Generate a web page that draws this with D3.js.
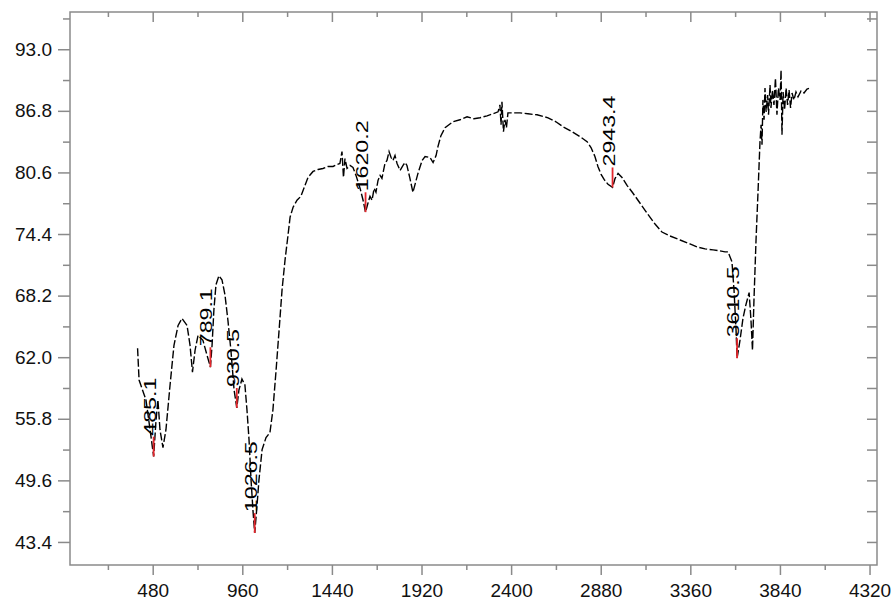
<!DOCTYPE html>
<html>
<head>
<meta charset="utf-8">
<script src="https://cdn.jsdelivr.net/npm/d3@7"></script>
<style>
	body { margin: 0; background: #fff; }
	svg text { font-family: "Liberation Sans", Arial, sans-serif; }
</style>
</head>
<body>
<div id="container"></div>
<script>
//Spectrum (wavenumber, transmittance)
var wavenumber = [399, 407, 444, 466, 485.1, 498, 508, 519, 535, 551,
	573, 594, 616, 637, 664, 680, 693, 707, 723, 749,
	771, 789.1, 798, 808, 819, 835, 851, 867, 883, 899,
	916, 930.5, 942, 958, 974, 985, 996, 1007, 1017, 1026.5,
	1039, 1049, 1066, 1087, 1108, 1124, 1141, 1157, 1173, 1189,
	1205, 1216, 1232, 1253, 1274, 1296, 1312, 1339, 1366, 1392,
	1419, 1446, 1467, 1483, 1494, 1502, 1510, 1521, 1537, 1553,
	1569, 1591, 1607, 1620.2, 1633, 1644, 1655, 1666, 1676, 1687,
	1698, 1708, 1724, 1735, 1746, 1757, 1767, 1778, 1789, 1805,
	1821, 1832, 1842, 1858, 1874, 1891, 1901, 1923, 1939, 1966,
	1982, 1998, 2008, 2024, 2046, 2067, 2089, 2126, 2164, 2201,
	2233, 2271, 2303, 2330, 2340, 2346, 2351, 2359, 2367, 2375,
	2383, 2415, 2448, 2490, 2539, 2598, 2640, 2678, 2726, 2769,
	2807, 2828, 2849, 2865, 2882, 2898, 2919, 2943.4, 2957, 2973,
	2994, 3021, 3053, 3091, 3128, 3171, 3208, 3251, 3305, 3358,
	3396, 3439, 3482, 3519, 3546, 3562, 3583, 3594, 3605, 3610.5,
	3626, 3642, 3658, 3675, 3685, 3693, 3701, 3712, 3723, 3733,
	3739, 3744, 3749, 3755, 3760, 3766, 3774, 3779, 3787, 3792,
	3800, 3808, 3816, 3824, 3832, 3841, 3846, 3851, 3857, 3865,
	3873, 3881, 3889, 3897, 3905, 3915, 3926, 3937, 3953, 3969,
	3985, 4001];

var transmittance = [62.9, 59.7, 57.7, 54.7, 52.0, 55.7, 57.7, 54.7, 52.9, 54.7,
	59.2, 63.2, 65.2, 65.9, 65.2, 63.2, 60.5, 62.7, 64.2, 63.7,
	62.2, 61.0, 63.2, 66.8, 69.3, 70.2, 69.8, 68.3, 65.7, 62.7,
	58.7, 56.9, 58.7, 59.8, 59.2, 56.7, 53.7, 49.6, 46.6, 44.3,
	47.1, 49.6, 52.7, 53.9, 54.4, 56.7, 60.7, 64.7, 68.8, 71.8,
	74.3, 76.1, 77.1, 77.8, 78.2, 79.3, 80.1, 80.7, 80.9, 81.0,
	81.2, 81.2, 81.4, 81.5, 82.7, 80.1, 82.0, 81.0, 81.3, 81.1,
	80.3, 79.0, 77.8, 76.6, 77.5, 78.2, 77.8, 79.0, 78.6, 79.8,
	80.3, 80.0, 81.5, 81.8, 82.7, 82.1, 81.8, 82.3, 81.5, 80.8,
	81.3, 81.6, 81.3, 80.0, 78.6, 79.8, 80.5, 81.8, 82.2, 82.1,
	81.6, 82.3, 83.2, 84.3, 85.1, 85.4, 85.7, 85.9, 86.2, 86.0,
	86.1, 86.3, 86.5, 86.7, 87.4, 85.4, 87.7, 84.7, 85.9, 85.1,
	86.6, 86.6, 86.6, 86.5, 86.4, 86.1, 85.7, 85.2, 84.7, 84.2,
	83.7, 83.1, 82.2, 81.2, 80.4, 79.9, 79.4, 79.1, 80.0, 80.5,
	80.1, 79.3, 78.5, 77.5, 76.5, 75.4, 74.6, 74.2, 73.8, 73.4,
	73.1, 72.9, 72.8, 72.7, 72.6, 72.6, 71.6, 68.8, 64.7, 61.9,
	63.7, 65.9, 67.3, 68.5, 65.7, 62.7, 67.8, 73.8, 78.8, 83.6,
	85.4, 83.4, 87.9, 85.9, 89.1, 86.7, 88.4, 86.4, 89.4, 87.1,
	88.9, 87.4, 90.1, 86.4, 89.1, 87.9, 90.9, 84.4, 88.7, 86.9,
	89.1, 87.4, 88.9, 87.1, 88.6, 87.9, 88.7, 88.2, 88.8, 88.6,
	89.0, 89.1];

//Marked peaks
var peakWave = [485.1, 789.1, 930.5, 1026.5, 1620.2, 2943.4, 3610.5];
var peakValue = [52.0, 61.0, 56.9, 44.3, 76.6, 79.1, 61.9];

//Tick values
var xTicks = [480, 960, 1440, 1920, 2400, 2880, 3360, 3840, 4320];
var xMinorTicks = [240, 720, 1200, 1680, 2160, 2640, 3120, 3600, 4080];
var yTicks = [43.4, 49.6, 55.8, 62.0, 68.2, 74.4, 80.6, 86.8, 93.0];
var yMinorTicks = [46.5, 52.7, 58.9, 65.1, 71.3, 77.5, 83.7, 89.9, 96.1];

function styleAxis(g, labels){
	g.select(".domain").remove();
	g.selectAll(".tick line")
		.attr("stroke", "#8a8a8a")
		.attr("stroke-width", 1.5);
	g.selectAll(".tick text")
		.attr("fill", "#111")
		.attr("font-size", labels ? "19px" : "0px");
}

function makeChart(){
	var w = 895;
	var h = 603;
	var left = 70, right = 877, top = 12, bottom = 565;

	var svg = d3.select("#container")
		.append("svg")
		.attr("width", w)
		.attr("height", h);

	var xScale = d3.scaleLinear()
		.domain([37, 4360])
		.range([left, right]);

	var yScale = d3.scaleLinear()
		.domain([41.08, 96.75])
		.range([bottom, top]);

	//Frame
	svg.append("rect")
		.attr("x", left)
		.attr("y", top)
		.attr("width", right - left)
		.attr("height", bottom - top)
		.attr("fill", "none")
		.attr("stroke", "#8a8a8a")
		.attr("stroke-width", 1.5);

	//Bottom axis, labels + minor ticks
	svg.append("g")
		.attr("transform", "translate(0," + bottom + ")")
		.call(d3.axisBottom(xScale).tickValues(xTicks).tickSize(10).tickPadding(9).tickFormat(d3.format("d")))
		.call(function(g){ styleAxis(g, true); });
	svg.append("g")
		.attr("transform", "translate(0," + bottom + ")")
		.call(d3.axisBottom(xScale).tickValues(xMinorTicks).tickSize(5).tickFormat(""))
		.call(function(g){ styleAxis(g, false); });

	//Top axis, ticks point inward
	svg.append("g")
		.attr("transform", "translate(0," + top + ")")
		.call(d3.axisTop(xScale).tickValues(xTicks).tickSize(-10).tickFormat(""))
		.call(function(g){ styleAxis(g, false); });
	svg.append("g")
		.attr("transform", "translate(0," + top + ")")
		.call(d3.axisTop(xScale).tickValues(xMinorTicks).tickSize(-5).tickFormat(""))
		.call(function(g){ styleAxis(g, false); });

	//Left axis
	svg.append("g")
		.attr("transform", "translate(" + left + ",0)")
		.call(d3.axisLeft(yScale).tickValues(yTicks).tickSize(12).tickPadding(6).tickFormat(d3.format(".1f")))
		.call(function(g){ styleAxis(g, true); });
	svg.append("g")
		.attr("transform", "translate(" + left + ",0)")
		.call(d3.axisLeft(yScale).tickValues(yMinorTicks).tickSize(7).tickFormat(""))
		.call(function(g){ styleAxis(g, false); });

	//Right axis, ticks point inward
	svg.append("g")
		.attr("transform", "translate(" + right + ",0)")
		.call(d3.axisRight(yScale).tickValues(yTicks.concat(yMinorTicks)).tickSize(-10).tickFormat(""))
		.call(function(g){ styleAxis(g, false); });

	//Spectrum
	var line = d3.line()
		.x(function(d) { return xScale(d[0]); })
		.y(function(d) { return yScale(d[1]); });

	svg.append("path")
		.datum(d3.zip(wavenumber, transmittance))
		.attr("d", line)
		.attr("fill", "none")
		.attr("stroke", "#000")
		.attr("stroke-width", 1.4)
		.attr("stroke-dasharray", "8,2.5");

	//Peak markers and labels
	var peaks = d3.zip(peakWave, peakValue);
	var markLen = 2.0;

	svg.selectAll("line.peak")
		.data(peaks)
		.enter()
		.append("line")
		.attr("class", "peak")
		.attr("x1", function(d) { return xScale(d[0]); })
		.attr("x2", function(d) { return xScale(d[0]); })
		.attr("y1", function(d) { return yScale(d[1]); })
		.attr("y2", function(d) { return yScale(d[1] + markLen); })
		.attr("stroke", "#e3262c")
		.attr("stroke-width", 1.8);

	svg.selectAll("text.peak")
		.data(peaks)
		.enter()
		.append("text")
		.attr("class", "peak")
		.text(function(d) { return d3.format(".1f")(d[0]); })
		.attr("transform", function(d) {
			return "translate(" + (xScale(d[0]) + 2) + "," + (yScale(d[1] + markLen) - 1) + ") rotate(-90) scale(1.45,1)";
		})
		.attr("text-anchor", "start")
		.attr("font-size", "16px")
		.attr("fill", "#000");
}

makeChart();
</script>
</body>
</html>
